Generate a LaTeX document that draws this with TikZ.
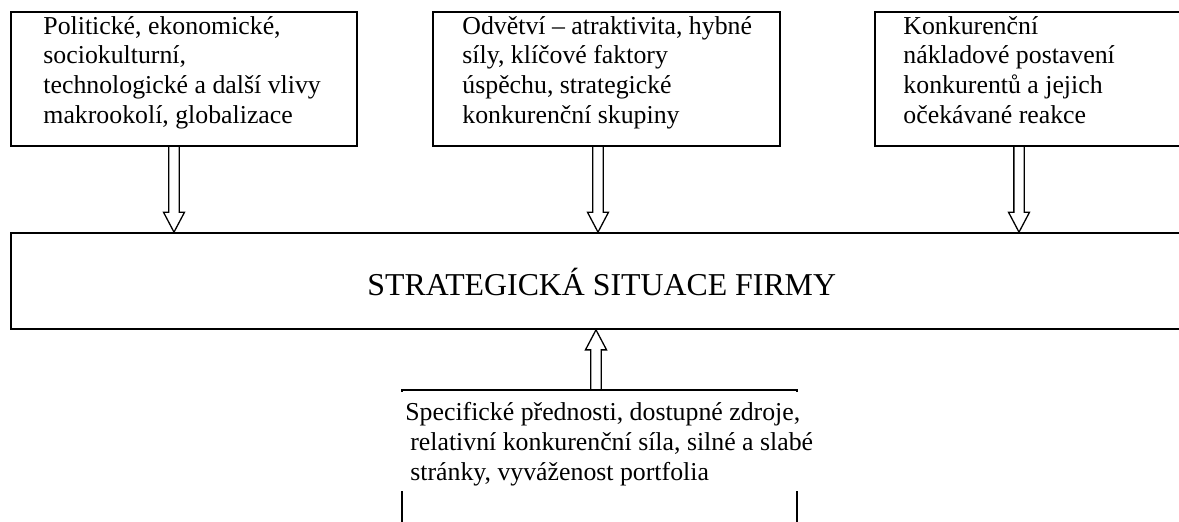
\documentclass[tikz,border=0pt]{standalone}
\usepackage{fontspec}
\setmainfont{Liberation Serif}
\usetikzlibrary{calc,fit,positioning}
\tikzstyle{boite} = [draw,rectangle,inner sep=0pt,line width=0.8pt]
\tikzstyle{texte} = [align=left,inner sep=0pt,anchor=base west,font=\fontsize{12}{13.75}\selectfont]
\tikzstyle{fleche} = [draw,line width=0.6pt,line join=miter]

%% fleche creuse (double trait) de #1 vers #2
\newcommand{\flechecreuse}[2]{%
	\path (#1) coordinate (fs) (#2) coordinate (fe);
	\path ($(fe)!9.3pt!(fs)$) coordinate (fh);
	\draw[fleche] ($(fs)!2.4pt!90:(fe)$) -- ($(fh)!2.4pt!90:(fe)$) -- ($(fh)!4.9pt!90:(fe)$) -- (fe)
		-- ($(fh)!4.9pt!-90:(fe)$) -- ($(fh)!2.4pt!-90:(fe)$) -- ($(fs)!2.4pt!-90:(fe)$);
}

\begin{document}
\begin{tikzpicture}[x=0.465pt,y=-0.465pt]

	\useasboundingbox (0,0) rectangle (1179,521);
	\clip (0,0) rectangle (1179,521);

	%% Boites du haut
	\node[boite, fit={(11,12) (357,146)}] (B1) {};
	\node[boite, fit={(433,12) (780,146)}] (B2) {};
	\node[boite, fit={(875,12) (1200,146)}] (B3) {};

	%% (base = derniere ligne)
	\node[texte] (T1) at (43,123) {Politické, ekonomické,\\sociokulturní,\\technologické a další vlivy\\makrookolí, globalizace};
	\node[texte] (T2) at (462,123) {Odvětví -- atraktivita, hybné\\síly, klíčové faktory\\úspěchu, strategické\\konkurenční skupiny};
	\node[texte] (T3) at (903,123) {Konkurenční\\nákladové postavení\\konkurentů a jejich\\očekávané reakce};

	%% Situation de la firme
	\node[boite, fit={(11,233) (1200,329)}] (C) {};
	\node[texte, font=\fontsize{14.8}{17}\selectfont] (TC) at (367,295) {STRATEGICKÁ SITUACE FIRMY};

	%% Boite du bas (le texte cache les cotes)
	\node[boite, fit={(402,390) (797,560)}] (B4) {};
	\node[texte, fill=white, inner xsep=3pt, inner ysep=2.5pt] (T4) at (398.5,480) {\rule{0pt}{11pt}Specifické přednosti, dostupné zdroje,\\\hspace*{2.3pt}relativní konkurenční síla, silné a slabé\\\hspace*{2.3pt}stránky, vyváženost portfolia};

	%% Fleches
	\coordinate (x1) at (174,0);
	\coordinate (x2) at (598,0);
	\coordinate (x3) at (1019,0);
	\coordinate (x4) at (596,0);

	\flechecreuse{B1.south -| x1}{C.north -| x1}
	\flechecreuse{B2.south -| x2}{C.north -| x2}
	\flechecreuse{B3.south -| x3}{C.north -| x3}
	\flechecreuse{B4.north -| x4}{C.south -| x4}

\end{tikzpicture}
\end{document}
